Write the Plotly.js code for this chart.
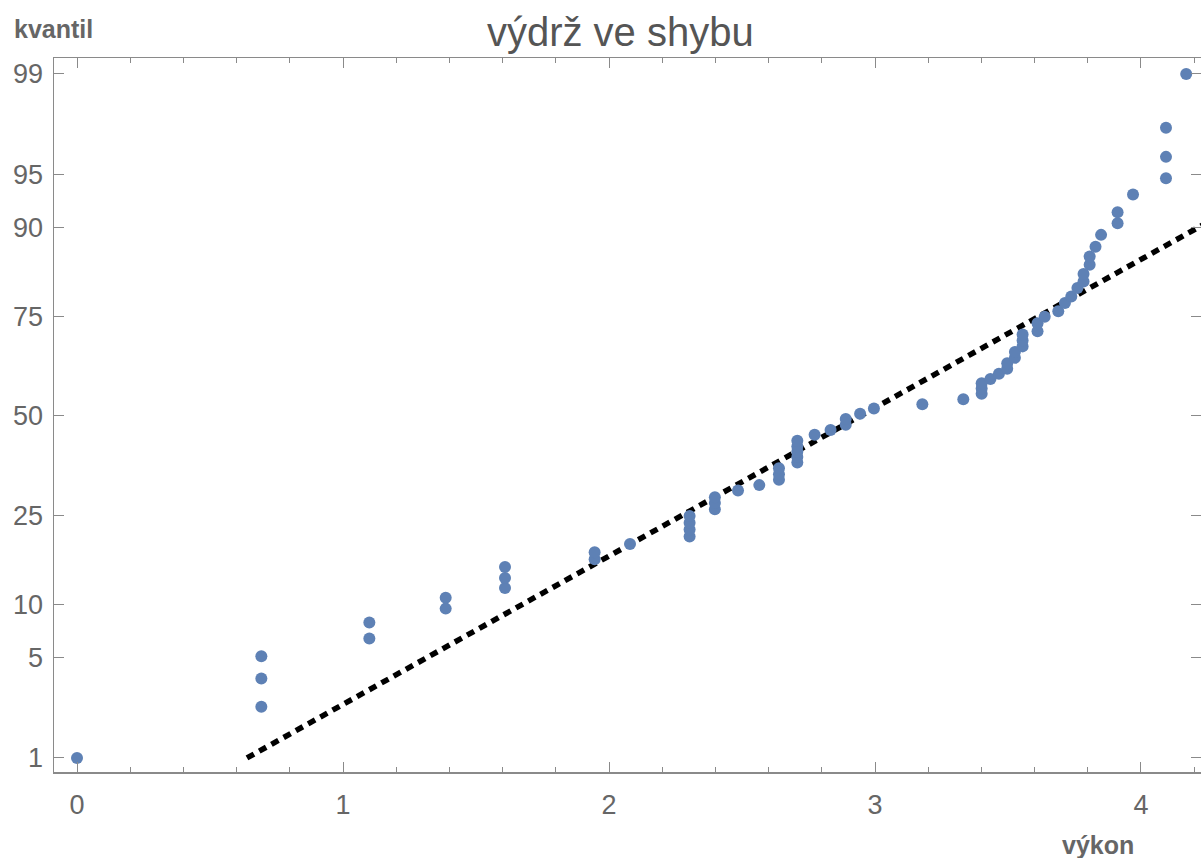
<!DOCTYPE html>
<html>
<head>
<meta charset="utf-8">
<script src="https://cdn.plot.ly/plotly-3.0.1.min.js"></script>
<style>html,body{margin:0;padding:0;background:#fff;}#chart{width:1201px;height:858px;}</style>
</head>
<body>
<div id="chart"></div>
<script>
// ln(výkon) values of the sample points
const vykonLog = [
  0.000,
  0.693, 0.693, 0.693,
  1.099, 1.099,
  1.386, 1.386,
  1.609, 1.609, 1.609,
  1.946, 1.946,
  2.079,
  2.303, 2.303, 2.303, 2.303,
  2.398, 2.398, 2.398,
  2.485,
  2.565,
  2.639, 2.639, 2.639,
  2.708, 2.708, 2.708, 2.708, 2.708,
  2.773,
  2.833,
  2.890, 2.890,
  2.944,
  2.996,
  3.178,
  3.332,
  3.401, 3.401, 3.401,
  3.434,
  3.466,
  3.497, 3.497,
  3.526, 3.526,
  3.555, 3.555, 3.555,
  3.611, 3.611,
  3.638,
  3.689,
  3.714,
  3.738,
  3.761,
  3.784, 3.784,
  3.807, 3.807,
  3.829,
  3.850,
  3.912, 3.912,
  3.970,
  4.094, 4.094, 4.094,
  4.170
];
// quantile (percent) of each point
const kvantilPct = [
  1.0,
  2.4, 3.7, 5.1,
  6.5, 8.0,
  9.5, 10.8,
  12.1, 13.5, 15.2,
  16.5, 17.7,
  19.2,
  20.6, 22.0, 23.4, 24.8,
  26.3, 27.7, 29.0,
  30.6,
  31.9,
  33.2, 34.6, 36.1,
  37.6, 39.0, 40.4, 41.8, 43.3,
  44.9,
  46.2,
  47.6, 49.2,
  50.6,
  52.0,
  53.2,
  54.5,
  56.0, 57.4, 58.8,
  59.9,
  61.3,
  62.6, 64.0,
  65.4, 66.8,
  68.2, 69.6, 71.0,
  71.8, 73.6,
  75.0,
  76.2,
  77.9,
  79.2,
  80.8,
  82.0, 83.3,
  84.8, 86.1,
  87.5,
  89.1,
  90.5, 91.7,
  93.4,
  94.7, 96.1, 97.5,
  99.0
];
// fitted reference line endpoints
const refLineX = [0.639, 5.25];
const refLinePct = [1, 99];
// tick labels
const yTickPct = [1, 5, 10, 25, 50, 75, 90, 95, 99];
const xTickVals = [0, 1, 2, 3, 4];

// inverse standard normal CDF (probability scale)
function probit(p) {
  const a = [-3.969683028665376e+01, 2.209460984245205e+02, -2.759285104469687e+02, 1.383577518672690e+02, -3.066479806614716e+01, 2.506628277459239e+00];
  const b = [-5.447609879822406e+01, 1.615858368580409e+02, -1.556989798598866e+02, 6.680131188771972e+01, -1.328068155288572e+01];
  const c = [-7.784894002430293e-03, -3.223964580411365e-01, -2.400758277161838e+00, -2.549732539343734e+00, 4.374664141464968e+00, 2.938163982698783e+00];
  const d = [7.784695709041462e-03, 3.224671290700398e-01, 2.445134137142996e+00, 3.754408661907416e+00];
  const pl = 0.02425, ph = 1 - pl;
  let q, r;
  if (p < pl) {
    q = Math.sqrt(-2 * Math.log(p));
    return (((((c[0]*q+c[1])*q+c[2])*q+c[3])*q+c[4])*q+c[5]) / ((((d[0]*q+d[1])*q+d[2])*q+d[3])*q+1);
  } else if (p <= ph) {
    q = p - 0.5; r = q * q;
    return (((((a[0]*r+a[1])*r+a[2])*r+a[3])*r+a[4])*r+a[5])*q / (((((b[0]*r+b[1])*r+b[2])*r+b[3])*r+b[4])*r+1);
  } else {
    q = Math.sqrt(-2 * Math.log(1 - p));
    return -(((((c[0]*q+c[1])*q+c[2])*q+c[3])*q+c[4])*q+c[5]) / ((((d[0]*q+d[1])*q+d[2])*q+d[3])*q+1);
  }
}
const toZ = v => probit(v / 100);

const gray = '#8a8a8a';
const labelGray = '#666666';
const fontFam = 'Liberation Sans, Arial, sans-serif';

const traces = [
  {
    x: refLineX, y: refLinePct.map(toZ),
    mode: 'lines', type: 'scatter', hoverinfo: 'skip',
    line: {color: '#000000', width: 5.5, dash: '8px,6px'}
  },
  {
    x: vykonLog, y: kvantilPct.map(toZ),
    mode: 'markers', type: 'scatter',
    marker: {color: '#5E81B5', size: 12}
  }
];

const layout = {
  width: 1201, height: 858,
  margin: {l: 54, r: 0, t: 58, b: 86},
  paper_bgcolor: '#ffffff', plot_bgcolor: '#ffffff',
  showlegend: false,
  title: {text: 'výdrž ve shybu', x: 0.5165, xanchor: 'center', y: 0.963, yanchor: 'middle',
          font: {family: fontFam, size: 40, color: '#555555'}},
  xaxis: {
    range: [-0.0865, 4.2256],
    tickvals: xTickVals, ticktext: xTickVals.map(String),
    ticks: 'inside', ticklen: 10, tickwidth: 1, tickcolor: gray,
    minor: {dtick: 0.2, tick0: 0, ticks: 'inside', ticklen: 5, tickcolor: gray, tickwidth: 1},
    showline: true, linecolor: gray, linewidth: 1.5, mirror: 'ticks',
    showgrid: false, zeroline: false,
    tickfont: {family: fontFam, size: 27, color: labelGray},
    ticklabelstandoff: 8
  },
  yaxis: {
    range: [-2.422, 2.435],
    tickvals: yTickPct.map(toZ), ticktext: yTickPct.map(String),
    ticks: 'inside', ticklen: 10, tickwidth: 1, tickcolor: gray,
    showline: true, linecolor: gray, linewidth: 1.5, mirror: 'ticks',
    showgrid: false, zeroline: false,
    tickfont: {family: fontFam, size: 27, color: labelGray},
    ticklabelstandoff: 4
  },
  annotations: [
    {text: '<b>kvantil</b>', xref: 'paper', yref: 'paper', x: -0.0366, y: 1.0406,
     xanchor: 'left', yanchor: 'middle', showarrow: false,
     font: {family: fontFam, size: 25, color: labelGray}},
    {text: '<b>výkon</b>', xref: 'paper', yref: 'paper', x: 0.910, y: -0.102,
     xanchor: 'center', yanchor: 'middle', showarrow: false,
     font: {family: fontFam, size: 25, color: labelGray}}
  ]
};

Plotly.newPlot('chart', traces, layout, {displayModeBar: false, staticPlot: true});
</script>
</body>
</html>
